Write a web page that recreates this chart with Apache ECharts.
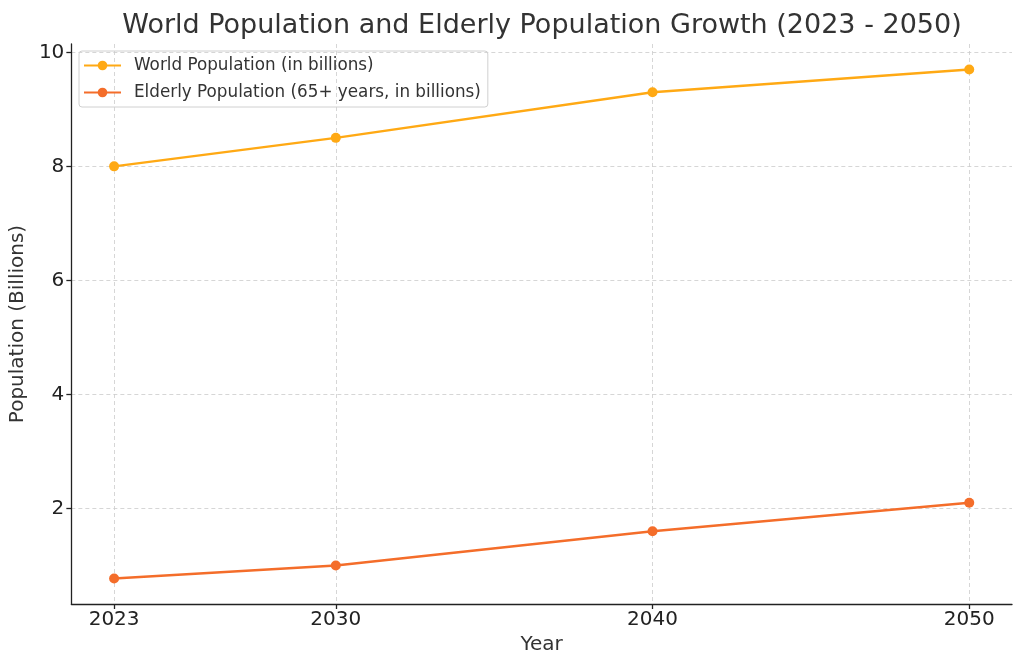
<!DOCTYPE html>
<html>
<head>
<meta charset="utf-8">
<script src="https://cdn.jsdelivr.net/npm/echarts@6/dist/echarts.min.js"></script>
<style>html,body{margin:0;padding:0;background:#fff}#c{width:1024px;height:669px}</style>
</head>
<body>
<div id="c"></div>
<script>
const years = [2023, 2030, 2040, 2050];
const worldPop = [8.0, 8.5, 9.3, 9.7];
const elderlyPop = [0.77, 1.0, 1.6, 2.1];
const xTicks = [2023, 2030, 2040, 2050];
const yTicks = [2, 4, 6, 8, 10];
const seriesNames = ['World Population (in billions)', 'Elderly Population (65+ years, in billions)'];

const allY = worldPop.concat(elderlyPop);
const yLo = Math.min(...allY), yHi = Math.max(...allY), yPad = (yHi - yLo) * 0.05;
const xLo = Math.min(...years), xHi = Math.max(...years), xPad = (xHi - xLo) * 0.05;
const font = 'DejaVu Sans';
const txt = '#333';

const chart = echarts.init(document.getElementById('c'), null, {renderer: 'canvas'});
chart.setOption({
  animation: false,
  backgroundColor: '#fff',
  title: {
    text: 'World Population and Elderly Population Growth (2023 - 2050)',
    left: 537, textAlign: 'center', top: 7,
    textStyle: {fontFamily: font, fontSize: 27, fontWeight: 'normal', color: txt}
  },
  legend: {
    orient: 'vertical', left: 79, top: 51,
    padding: [6, 7, 6, 4],
    itemGap: 10, itemWidth: 37, itemHeight: 12,
    borderColor: '#d0d0d0', borderWidth: 1, borderRadius: 3,
    textStyle: {fontFamily: font, fontSize: 16.8, color: txt, padding: [0, 0, 0, 8]},
    data: seriesNames
  },
  grid: {left: 71, right: 12, top: 44, bottom: 65, containLabel: false},
  xAxis: {
    type: 'value', min: xLo - xPad, max: xHi + xPad,
    name: 'Year', nameLocation: 'middle', nameGap: 31,
    nameTextStyle: {fontFamily: font, fontSize: 20, color: txt},
    axisLine: {show: true, onZero: false, lineStyle: {color: '#222', width: 1.3}},
    axisTick: {show: true, length: 5, customValues: xTicks, lineStyle: {color: '#222', width: 1.3}},
    axisLabel: {customValues: xTicks, fontFamily: font, fontSize: 20, color: '#222', margin: 6,
      formatter: v => String(v)},
    splitLine: {show: true, lineStyle: {type: [4, 3], color: '#cccccc', width: 0.8}}
  },
  yAxis: {
    type: 'value', min: yLo - yPad, max: yHi + yPad,
    name: 'Population (Billions)', nameLocation: 'middle', nameGap: 41, nameRotate: 90,
    nameTextStyle: {fontFamily: font, fontSize: 20, color: txt},
    axisLine: {show: true, onZero: false, lineStyle: {color: '#222', width: 1.3}},
    axisTick: {show: true, length: 5, customValues: yTicks, lineStyle: {color: '#222', width: 1.3}},
    axisLabel: {customValues: yTicks, fontFamily: font, fontSize: 20, color: '#222', margin: 7,
      formatter: v => String(v)},
    splitLine: {show: true, lineStyle: {type: [4, 3], color: '#cccccc', width: 0.8}}
  },
  series: [
    {
      name: seriesNames[0], type: 'line',
      data: years.map((y, i) => [y, worldPop[i]]),
      symbol: 'circle', symbolSize: 10,
      lineStyle: {width: 2.5, color: '#FFA914'},
      itemStyle: {color: '#FFA914'}
    },
    {
      name: seriesNames[1], type: 'line',
      data: years.map((y, i) => [y, elderlyPop[i]]),
      symbol: 'circle', symbolSize: 10,
      lineStyle: {width: 2.5, color: '#F46D2A'},
      itemStyle: {color: '#F46D2A'}
    }
  ]
});
</script>
</body>
</html>
